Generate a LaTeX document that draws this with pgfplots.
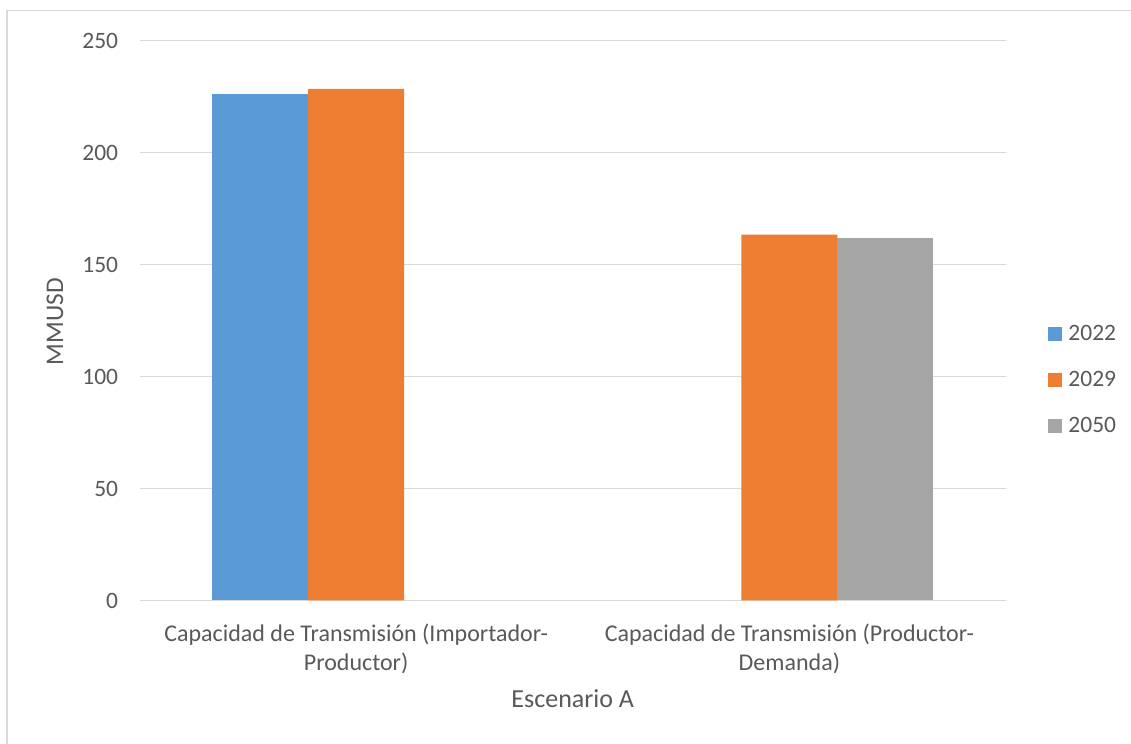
\documentclass[border=0pt]{standalone}
\usepackage{pgfplots}
\pgfplotsset{compat=1.18}
\usepackage{fontspec}
\setmainfont{Carlito}
\definecolor{cblue}{HTML}{5B9BD5}
\definecolor{corange}{HTML}{ED7D31}
\definecolor{cgray}{HTML}{A5A5A5}
\definecolor{ctext}{HTML}{595959}
\definecolor{cgrid}{HTML}{D9D9D9}
\pgfplotsset{
  mybar/.style={ybar, bar width=0.2216, draw=none, fill=#1,
    legend image code/.code={\fill[#1] (0pt,-3.5pt) rectangle (7pt,3.5pt);}},
}
\begin{document}
\begin{tikzpicture}
\useasboundingbox (0pt,0pt) rectangle (565.5pt,372pt);
\fill[white] (0pt,0pt) rectangle (565.5pt,372pt);
\draw[cgrid, line width=0.9pt] (3.5pt,0pt) -- (3.5pt,366.75pt) -- (565.5pt,366.75pt);
\begin{axis}[
  at={(69.75pt,71.75pt)}, anchor=south west,
  scale only axis, width=433.25pt, height=280pt,
  xmin=-0.5, xmax=1.5, ymin=0, ymax=250,
  ytick={0,50,100,150,200,250},
  xtick={0,1},
  xticklabels={{Capacidad de Transmisión (Importador-\\Productor)},{Capacidad de Transmisión (Productor-\\Demanda)}},
  axis line style={draw=none},
  major tick length=0pt,
  tick style={draw=none},
  ymajorgrids, grid style={cgrid, line width=0.6pt},
  /pgf/number format/assume math mode=true,
  ticklabel style={text=ctext},
  yticklabel style={anchor=east, inner sep=0pt, xshift=-10.5pt, font=\fontsize{11.75}{14}\selectfont},
  xticklabel style={align=center, anchor=center, inner sep=0pt, yshift=-24pt, font=\fontsize{12}{14.5}\selectfont},
  xlabel={Escenario A}, ylabel={MMUSD},
  every axis x label/.style={at={(axis description cs:0.5,-0.176)}, anchor=center, text=ctext, font=\fontsize{13}{15}\selectfont},
  every axis y label/.style={at={(axis description cs:-0.0975,0.498)}, rotate=90, anchor=center, text=ctext, font=\fontsize{12.7}{15}\selectfont},
  legend style={at={(axis description cs:1.0485,0.3929)}, anchor=west, draw=none, fill=none,
    inner sep=0pt, column sep=3pt, row sep=0pt,
    nodes={inner sep=0pt, minimum height=23pt, text=ctext},
    font=\fontsize{11.75}{14}\selectfont},
  legend cell align=left,
]
\addplot[mybar=cblue, bar shift=-0.2216] coordinates {(0,226.2)};
\addlegendentry{2022}
\addplot[mybar=corange, bar shift=0] coordinates {(0,228.4) (1,163.3)};
\addlegendentry{2029}
\addplot[mybar=cgray, bar shift=0.2216] coordinates {(1,161.8)};
\addlegendentry{2050}
\end{axis}
\end{tikzpicture}
\end{document}
